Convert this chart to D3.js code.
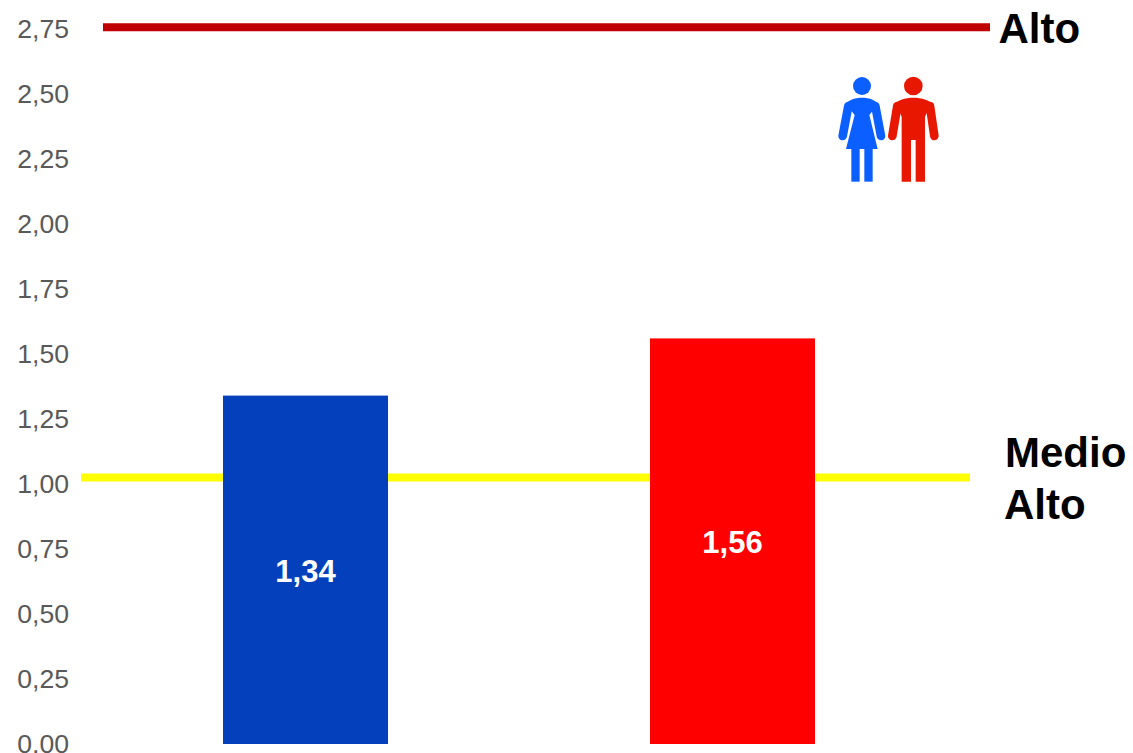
<!DOCTYPE html>
<html><head><meta charset="utf-8">
<script src="https://cdn.jsdelivr.net/npm/d3@7"></script>
<style>html,body{margin:0;padding:0;background:#fff;overflow:hidden}svg{display:block}text{font-family:"Liberation Sans",Arial,sans-serif}</style>
</head><body><svg id="c" width="1133" height="753"></svg>
<script>
const categories = ["Mujeres", "Hombres"];
const values = [1.34, 1.56];
const barColors = ["#0540BC", "#FF0000"];
const tickValues = [0, 0.25, 0.5, 0.75, 1, 1.25, 1.5, 1.75, 2, 2.25, 2.5, 2.75];
const refValues = [2.757, 1.025];
const refColors = ["#C00000", "#FFFF00"];

const svg = d3.select("#c");
const y = d3.scaleLinear().domain([0, 2.75]).range([744, 29]);
const x = d3.scaleBand().domain(categories).range([92, 946]).paddingInner(0.6136).paddingOuter(0.3068);
const comma = v => d3.format(".2f")(v).replace(".", ",");

const axis = svg.append("g").attr("transform", "translate(69,-0.5)")
  .call(d3.axisLeft(y).tickValues(tickValues).tickSize(0).tickPadding(0).tickFormat(comma));
axis.select(".domain").remove();
axis.selectAll("text").attr("font-size", 26.6).attr("fill", "#595959")
  .style("font-family", '"Liberation Sans",Arial,sans-serif');

// reference lines
svg.append("line").attr("x1", 103).attr("x2", 990).attr("y1", y(refValues[0])).attr("y2", y(refValues[0]))
  .attr("stroke", refColors[0]).attr("stroke-width", 8);
svg.append("line").attr("x1", 81).attr("x2", 970).attr("y1", y(refValues[1])).attr("y2", y(refValues[1]))
  .attr("stroke", refColors[1]).attr("stroke-width", 8);

// bars
svg.selectAll("rect.bar").data(values).join("rect").attr("class", "bar")
  .attr("x", (d, i) => x(categories[i])).attr("width", x.bandwidth())
  .attr("y", d => y(d)).attr("height", d => y(0) - y(d))
  .attr("fill", (d, i) => barColors[i]);

svg.selectAll("text.val").data(values).join("text").attr("class", "val")
  .attr("x", (d, i) => x(categories[i]) + x.bandwidth() / 2)
  .attr("y", d => (y(d) + y(0)) / 2 + 12)
  .attr("text-anchor", "middle").attr("font-size", 31).attr("font-weight", "bold")
  .attr("fill", "#fff").text(comma);

// side labels
const side = [["Alto", 998.5, 43], ["Medio", 1005, 467], ["Alto", 1004, 519]];
svg.selectAll("text.side").data(side).join("text").attr("class", "side")
  .attr("x", d => d[1]).attr("y", d => d[2]).attr("font-size", 42)
  .attr("font-weight", "bold").attr("fill", "#000").text(d => d[0]);

// pictogram
const icon = svg.append("g").attr("transform", "translate(820,60) scale(0.3333)");
const w = icon.append("g").attr("fill", "#0B5FFF");
w.append("circle").attr("cx", 126).attr("cy", 78).attr("r", 27);
w.append("path").attr("d", "M73 140C80 120 105 113 126 113C147 113 172 120 178 140L160 150L148 165L173 267H78L104 165L92 150Z");
w.append("path").attr("d", "M85 138L68 228M166 138L183 228").attr("fill", "none").attr("stroke", "#0B5FFF").attr("stroke-width", 26).attr("stroke-linecap", "round");
w.append("rect").attr("x", 94).attr("y", 260).attr("width", 25).attr("height", 105);
w.append("rect").attr("x", 133).attr("y", 260).attr("width", 25).attr("height", 105);
const m = icon.append("g").attr("fill", "#E81700");
m.append("circle").attr("cx", 280).attr("cy", 78).attr("r", 28);
m.append("path").attr("d", "M220 140C226 120 258 113 280 113C302 113 336 120 342 140L325 150L315 170V365H287V240H273V365H245V170L236 150Z");
m.append("path").attr("d", "M232 138L217 228M330 138L343 228").attr("fill", "none").attr("stroke", "#E81700").attr("stroke-width", 26).attr("stroke-linecap", "round");
</script></body></html>
